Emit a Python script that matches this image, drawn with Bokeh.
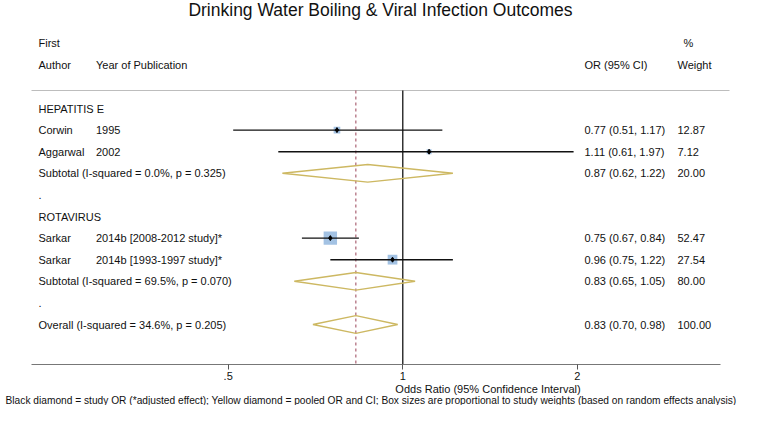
import math
from bokeh.plotting import figure
from bokeh.models import (ColumnDataSource, Range1d, LinearScale, FixedTicker, Label,
                          LogAxis)
from bokeh.core.properties import value
from bokeh.embed import file_html
from bokeh.resources import INLINE

# ---------------- data ----------------
title_text = "Drinking Water Boiling & Viral Infection Outcomes"
x_title = "Odds Ratio (95% Confidence Interval)"
footnote = ("Black diamond = study OR (*adjusted effect); Yellow diamond = pooled OR and CI; "
            "Box sizes are proportional to study weights (based on random effects analysis)")

groups = ["HEPATITIS E", "ROTAVIRUS"]
study_group = [0, 0, 1, 1]
study_author = ["Corwin", "Aggarwal", "Sarkar", "Sarkar"]
study_year = ["1995", "2002", "2014b [2008-2012 study]*", "2014b [1993-1997 study]*"]
study_or = [0.77, 1.11, 0.75, 0.96]
study_lo = [0.51, 0.61, 0.67, 0.75]
study_hi = [1.17, 1.97, 0.84, 1.22]
study_weight = [12.87, 7.12, 52.47, 27.54]

sub_label = ["Subtotal  (I-squared = 0.0%, p = 0.325)",
             "Subtotal  (I-squared = 69.5%, p = 0.070)"]
sub_or = [0.87, 0.83]
sub_lo = [0.62, 0.65]
sub_hi = [1.22, 1.05]
sub_weight = [20.00, 80.00]

overall_label = "Overall  (I-squared = 34.6%, p = 0.205)"
overall_or = 0.83
overall_lo = 0.70
overall_hi = 0.98
overall_weight = 100.00

x_ticks = [0.5, 1.0, 2.0]
x_tick_labels = [".5", "1", "2"]

# ---------------- layout (pixel positions on the canvas) ----------------
FONT = "Liberation Sans"
TXT = "#111111"
COL_AUTHOR, COL_YEAR, COL_OR, COL_W, COL_PCT = 38, 95.5, 584, 677, 683

rows_left = []   # (row, x, text)
rows_or = []     # (row, text)
rows_w = []      # (row, text)
s_rows = [0] * len(study_or)
p_rows = []
r = 0
for g, gname in enumerate(groups):
    rows_left.append((r, COL_AUTHOR, gname)); r += 1
    for i in range(len(study_or)):
        if study_group[i] == g:
            s_rows[i] = r
            rows_left.append((r, COL_AUTHOR, study_author[i]))
            rows_left.append((r, COL_YEAR, study_year[i]))
            rows_or.append((r, f"{study_or[i]:.2f} ({study_lo[i]:.2f}, {study_hi[i]:.2f})"))
            rows_w.append((r, f"{study_weight[i]:.2f}"))
            r += 1
    p_rows.append(r)
    rows_left.append((r, COL_AUTHOR, sub_label[g]))
    rows_or.append((r, f"{sub_or[g]:.2f} ({sub_lo[g]:.2f}, {sub_hi[g]:.2f})"))
    rows_w.append((r, f"{sub_weight[g]:.2f}"))
    r += 1
    rows_left.append((r, COL_AUTHOR, ".")); r += 1
o_row = r
rows_left.append((o_row, COL_AUTHOR, overall_label))
rows_or.append((o_row, f"{overall_or:.2f} ({overall_lo:.2f}, {overall_hi:.2f})"))
rows_w.append((o_row, f"{overall_weight:.2f}"))

W, H = 741, 405
ROW0_PX, ROW_PX = 108.0, 21.6          # pixel y of first row, row pitch
def row_of(py):
    return (py - ROW0_PX) / ROW_PX

HDR1, HDR2, HLINE = row_of(42), row_of(64), row_of(90)
AXIS_ROW = row_of(364)

# x: log scale, 1 at px 402.3, 174.6 px per doubling
def or_of(px):
    return 2 ** ((px - 402.3) / 174.6)

p = figure(width=W, height=H, x_axis_type="log",
           x_range=Range1d(or_of(0), or_of(W)), y_range=Range1d(row_of(H), row_of(0)),
           output_backend="svg", toolbar_location=None,
           x_axis_location=None, y_axis_location=None, title=None,
           min_border_left=0, min_border_right=0, min_border_top=0, min_border_bottom=0)
p.outline_line_color = None
p.background_fill_color = "white"
p.border_fill_color = "white"
for g_ in list(p.center):
    g_.visible = False

p.extra_x_ranges = {"px": Range1d(0, W)}
p.extra_x_scales = {"px": LinearScale()}
p.extra_y_ranges = {"py": Range1d(H, 0)}
p.extra_y_scales = {"py": LinearScale()}

# header separator line
p.segment(x0=[31], x1=[729], y0=[HLINE], y1=[HLINE], x_range_name="px",
          line_color="#bdbdbd", line_width=1)

# reference lines: null effect and overall estimate
p.segment(x0=[1.0], x1=[1.0], y0=[HLINE], y1=[AXIS_ROW], line_color="black", line_width=1.2)
p.segment(x0=[overall_or], x1=[overall_or], y0=[HLINE], y1=[AXIS_ROW],
          line_color="#9a4458", line_width=1, line_dash="3 3")

# study CIs, boxes and points
ssrc = ColumnDataSource(dict(
    row=s_rows, est=study_or, lo=study_lo, hi=study_hi,
    size=[1.85 * math.sqrt(w) for w in study_weight]))
p.scatter(x="est", y="row", size="size", marker="square", source=ssrc,
          fill_color="#a3c2e3", line_color=None)
p.segment(x0="lo", x1="hi", y0="row", y1="row", source=ssrc,
          line_color="#111111", line_width=1.4)
p.scatter(x="est", y="row", size=5, marker="diamond", source=ssrc,
          fill_color="black", line_color="black")

# pooled diamonds
DH = 0.41
pool_est = sub_or + [overall_or]
pool_lo = sub_lo + [overall_lo]
pool_hi = sub_hi + [overall_hi]
pool_row = p_rows + [o_row]
xs = [[l, e, h, e, l] for l, e, h in zip(pool_lo, pool_est, pool_hi)]
ys = [[rr, rr - DH, rr, rr + DH, rr] for rr in pool_row]
p.patches(xs=xs, ys=ys, fill_color=None, line_color="#cdb862", line_width=1.4)

# text columns
def add_text(xs_, ys_, texts, size="11px", align="left"):
    src = ColumnDataSource(dict(x=xs_, y=ys_, t=texts))
    p.text(x="x", y="y", text="t", source=src, x_range_name="px",
           text_font=value(FONT), text_font_size=size, text_color=TXT,
           text_baseline="middle", text_align=align)

add_text([c for _, c, _ in rows_left], [rr for rr, _, _ in rows_left], [t for _, _, t in rows_left])
add_text([COL_OR] * len(rows_or), [rr for rr, _ in rows_or], [t for _, t in rows_or])
add_text([COL_W] * len(rows_w), [rr for rr, _ in rows_w], [t for _, t in rows_w])
add_text([COL_AUTHOR, COL_AUTHOR, COL_YEAR, COL_OR, COL_PCT, COL_W],
         [HDR1, HDR2, HDR2, HDR2, HDR1, HDR2],
         ["First", "Author", "Year of Publication", "OR (95% CI)", "%", "Weight"])

# x axis, drawn at a fixed row inside the frame
ax = LogAxis(fixed_location=AXIS_ROW)
ax.ticker = FixedTicker(ticks=x_ticks)
ax.major_label_overrides = {t: l for t, l in zip(x_ticks, x_tick_labels)}
ax.bounds = (or_of(31), or_of(720))
ax.axis_line_color = "#777777"
ax.axis_line_width = 1
ax.major_tick_line_color = "#555555"
ax.major_tick_in = 0
ax.major_tick_out = 5
ax.minor_tick_line_color = None
ax.major_label_text_font = FONT
ax.major_label_text_font_size = "11px"
ax.major_label_text_color = TXT
ax.major_label_standoff = 2
p.add_layout(ax, "below")

# titles
p.add_layout(Label(x=380, y=9, x_range_name="px", y_range_name="py", text=title_text,
                   text_font=FONT, text_font_size="17.5px", text_color=TXT,
                   text_align="center", text_baseline="middle"))
p.add_layout(Label(x=487.5, y=388, x_range_name="px", y_range_name="py", text=x_title,
                   text_font=FONT, text_font_size="11px", text_color=TXT,
                   text_align="center", text_baseline="middle"))
p.add_layout(Label(x=370.5, y=399.5, x_range_name="px", y_range_name="py", text=footnote,
                   text_font=FONT, text_font_size="10.2px", text_color=TXT,
                   text_align="center", text_baseline="middle"))

open("out.html", "w").write(file_html(p, INLINE))
